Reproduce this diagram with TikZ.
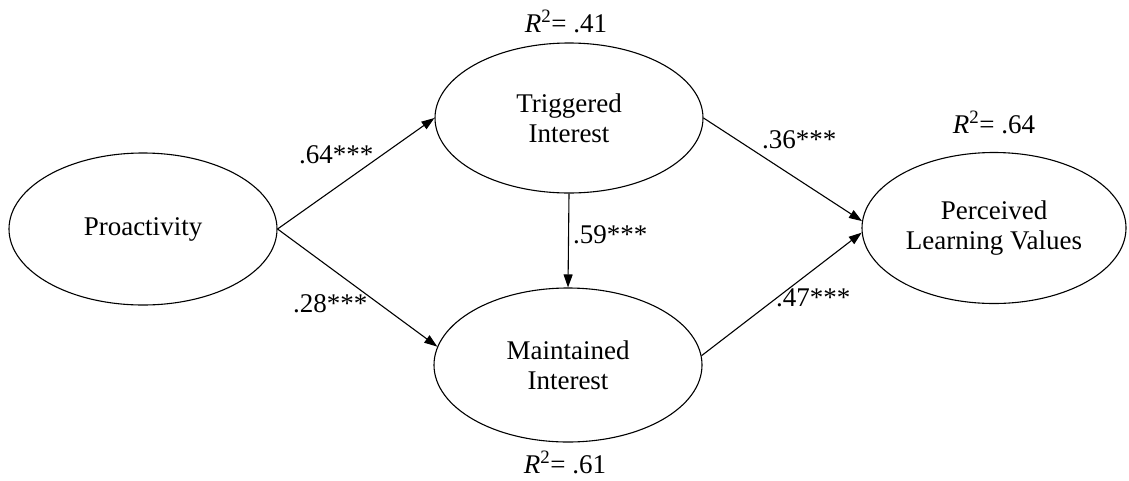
\documentclass[tikz,border=0pt]{standalone}
\usepackage{fontspec}
\setmainfont{Liberation Serif}
\usetikzlibrary{arrows.meta,shapes.geometric}
\tikzset{
  latent/.style={draw, ellipse, line width=1.1pt, inner sep=0pt, align=center,
    font=\fontsize{27}{30}\selectfont},
  arr/.style={line width=1.1pt, -{Triangle[length=13pt,width=9pt]}},
  coef/.style={font=\fontsize{27}{30}\selectfont, inner sep=0pt},
}
\begin{document}
\begin{tikzpicture}[x=1pt,y=-1pt]
\useasboundingbox (0,0) rectangle (1129,480);
\node[latent, minimum width=268pt, minimum height=152pt] (pro) at (143,229) {Proactivity};
\node[latent, minimum width=268pt, minimum height=150pt] (trig) at (569,118) {Triggered\\Interest};
\node[latent, minimum width=268pt, minimum height=154pt] (maint) at (568,365) {Maintained\\Interest};
\node[latent, minimum width=264pt, minimum height=151pt] (perc) at (994,228) {Perceived\\Learning Values};

\draw[arr] (pro.east) -- (trig.west);
\draw[arr] (pro.east) -- (maint.172);
\draw[arr] (trig.south) -- (maint.north);
\draw[arr] (trig.east) -- (perc.177);
\draw[arr] (maint.4) -- (perc.182);

\node[coef, anchor=base west] (c1) at (299,163) {.64***};
\node[coef, anchor=base west] (c2) at (293,312) {.28***};
\node[coef, anchor=base west] (c3) at (573,243) {.59***};
\node[coef, anchor=base west] (c4) at (762,148) {.36***};
\node[coef, anchor=base west] (c5) at (776,306) {.47***};

\node[coef, anchor=base] (r1) at (566,32) {\textit{R}\textsuperscript{2}= .41};
\node[coef, anchor=base] (r2) at (565,473) {\textit{R}\textsuperscript{2}= .61};
\node[coef, anchor=base] (r3) at (994,133) {\textit{R}\textsuperscript{2}= .64};
\end{tikzpicture}
\end{document}
